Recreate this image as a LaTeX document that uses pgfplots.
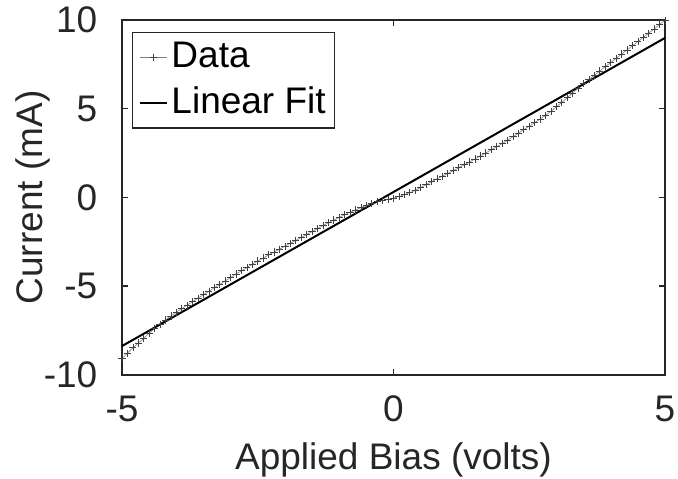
\documentclass[border=0pt]{standalone}
\usepackage{fontspec}
\setmainfont{Liberation Sans}
\usepackage{pgfplots}
\pgfplotsset{compat=1.18}
\definecolor{axgray}{HTML}{262626}
\pgfplotstableread{
x y
-5.0 -9.07
-4.9 -8.77
-4.8 -8.47
-4.7 -8.20
-4.6 -7.93
-4.5 -7.65
-4.4 -7.38
-4.3 -7.14
-4.2 -6.90
-4.1 -6.68
-4.0 -6.46
-3.9 -6.26
-3.8 -6.07
-3.7 -5.86
-3.6 -5.67
-3.5 -5.48
-3.4 -5.28
-3.3 -5.09
-3.2 -4.90
-3.1 -4.70
-3.0 -4.51
-2.9 -4.31
-2.8 -4.13
-2.7 -3.95
-2.6 -3.76
-2.5 -3.58
-2.4 -3.41
-2.3 -3.23
-2.2 -3.07
-2.1 -2.91
-2.0 -2.74
-1.9 -2.58
-1.8 -2.42
-1.7 -2.25
-1.6 -2.09
-1.5 -1.92
-1.4 -1.75
-1.3 -1.59
-1.2 -1.42
-1.1 -1.27
-1.0 -1.12
-0.9 -0.97
-0.8 -0.83
-0.7 -0.70
-0.6 -0.57
-0.5 -0.45
-0.4 -0.33
-0.3 -0.24
-0.2 -0.17
-0.1 -0.10
0.0 -0.04
0.1 0.05
0.2 0.16
0.3 0.27
0.4 0.40
0.5 0.56
0.6 0.72
0.7 0.89
0.8 1.05
0.9 1.20
1.0 1.36
1.1 1.51
1.2 1.67
1.3 1.84
1.4 2.00
1.5 2.17
1.6 2.34
1.7 2.51
1.8 2.69
1.9 2.86
2.0 3.03
2.1 3.23
2.2 3.42
2.3 3.62
2.4 3.83
2.5 4.02
2.6 4.22
2.7 4.42
2.8 4.62
2.9 4.86
3.0 5.11
3.1 5.36
3.2 5.62
3.3 5.89
3.4 6.16
3.5 6.42
3.6 6.66
3.7 6.89
3.8 7.13
3.9 7.37
4.0 7.60
4.1 7.84
4.2 8.08
4.3 8.31
4.4 8.55
4.5 8.78
4.6 9.02
4.7 9.26
4.8 9.49
4.9 9.75
5.0 9.99
}\datatable
\pgfplotstableread{
x y
-5 -8.37
5 8.99
}\fittable
\begin{document}
\fontsize{18.5}{22}\selectfont
\begin{tikzpicture}
\begin{axis}[
  name=ax,
  scale only axis,
  width=271.5pt, height=177.5pt,
  xmin=-5, xmax=5, ymin=-10, ymax=10,
  xtick={-5,0,5}, ytick={-10,-5,0,5,10},
  tick align=inside,
  major tick length=3pt,
  axis line style={line width=0.75pt, color=axgray},
  every tick/.style={line width=0.75pt, color=axgray},
  tick label style={font=\fontsize{18.5}{22}\selectfont, color=axgray},
  label style={font=\fontsize{18.5}{22}\selectfont, color=axgray},
  /pgf/number format/assume math mode=true,
  xticklabel style={yshift=-4pt},
  yticklabel style={xshift=-6pt},
  xlabel={Applied Bias (volts)},
  ylabel={Current (mA)},
  xlabel style={yshift=2pt},
  ylabel style={at={(axis description cs:-0.1455,0.5)}, anchor=base, rotate=0},
  legend cell align=left,
  legend style={at={(rel axis cs:0.0184,0.966)}, anchor=north west,
    draw=axgray, line width=0.6pt, fill=white,
    font=\fontsize{18.5}{22}\selectfont, inner sep=3pt, row sep=4pt,
    nodes={inner sep=1.5pt, text=black}},
  legend image code/.code={\draw[mark repeat=2,mark phase=2] plot coordinates {(0cm,0cm) (0.245cm,0cm) (0.49cm,0cm)};},
]
\addplot[color=gray, line width=0.3pt, mark=+, mark size=1.8pt, mark options={color=black!75, line width=0.35pt}] table[x=x,y=y]{\datatable};
\addlegendentry{Data}
\addplot[color=black, line width=1pt, no marks] table[x=x,y=y]{\fittable};
\addlegendentry{Linear Fit}
\end{axis}
\pgfresetboundingbox
\path ([shift={(-61pt,-52pt)}]ax.south west) rectangle ([shift={(6.5pt,10pt)}]ax.north east);
\end{tikzpicture}
\end{document}
